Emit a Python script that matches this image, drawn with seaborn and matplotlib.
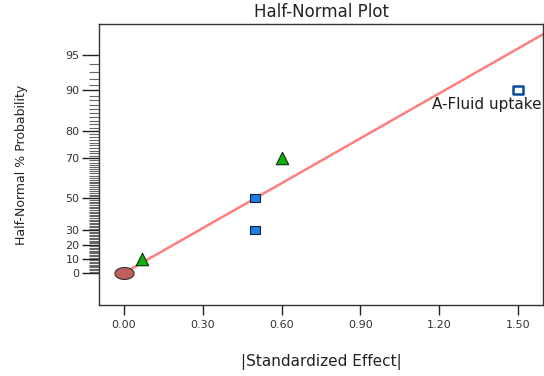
import matplotlib
matplotlib.use("Agg")
import matplotlib.pyplot as plt
import matplotlib.font_manager as fm
from matplotlib.path import Path
import seaborn as sns
import pandas as pd
import numpy as np
from statistics import NormalDist

# ---- data ----
effects = [0.0, 0.07, 0.50, 0.50, 0.60, 1.50]
probs = [0, 10, 30, 50, 70, 90]
kinds = ["error", "tri", "sq", "sq", "tri", "label"]
line_effect = [0.0, 1.60]
line_prob = [0.0, 96.9]
ytick_probs = [0, 10, 20, 30, 50, 70, 80, 90, 95]
xtick_vals = [0.00, 0.30, 0.60, 0.90, 1.20, 1.50]
label_text = "A-Fluid uptake"

nd = NormalDist()
def hn(ps):
    return np.array([nd.inv_cdf(0.5 + v / 200.0) for v in ps])

df = pd.DataFrame({"effect": effects, "prob": probs, "kind": kinds})
df["z"] = hn(df["prob"].tolist())
ldf = pd.DataFrame({"effect": line_effect, "z": hn(line_prob)})

sns.set_style("white")
plt.rcParams["font.family"] = ["DejaVu Sans"]

# condensed font for the y label, if available
names = {f.name for f in fm.fontManager.ttflist}
ylab_kw = dict(family=["DejaVu Sans"], fontsize=9)
if "Liberation Sans Narrow" in names:
    ylab_kw = dict(family=["Liberation Sans Narrow"], fontsize=11)
elif "DejaVu Sans Condensed" in names:
    ylab_kw = dict(family=["DejaVu Sans Condensed"], fontsize=10)

fig = plt.figure(figsize=(5.44, 3.76), dpi=100)
ax = fig.add_axes([99/544, 71/376, 444/544, 281/376])

sns.lineplot(data=ldf, x="effect", y="z", ax=ax, color="#ff7f7f", lw=1.8, zorder=1)

t = np.linspace(0, 2*np.pi, 60)
ell = Path(np.column_stack([1.6*np.cos(t), np.sin(t)]), closed=True)
rect = Path([(-1.4, -1), (1.4, -1), (1.4, 1), (-1.4, 1), (-1.4, -1)], closed=True)

sns.scatterplot(data=df[df.kind == "error"], x="effect", y="z", ax=ax, marker=ell,
                s=190, color="#c0605c", edgecolor="#303030", linewidth=0.8, zorder=3)
sns.scatterplot(data=df[df.kind == "tri"], x="effect", y="z", ax=ax, marker="^",
                s=80, color="#10b010", edgecolor="#103010", linewidth=0.8, zorder=3)
sns.scatterplot(data=df[df.kind == "sq"], x="effect", y="z", ax=ax, marker=rect,
                s=55, color="#1a80e8", edgecolor="#102040", linewidth=0.8, zorder=3)
sns.scatterplot(data=df[df.kind == "label"], x="effect", y="z", ax=ax, marker=rect,
                s=55, color="white", edgecolor="#0a4a9a", linewidth=1.8, zorder=3)

lab = df[df.kind == "label"].iloc[0]
ax.annotate(label_text, (lab["effect"], lab["z"]), xytext=(17, -10), textcoords="offset points",
            ha="right", va="center", fontsize=11, color="#202020")

ax.set_xlim(-0.095, 1.595)
ax.set_ylim(-0.288, 2.243)
ax.set_xticks(xtick_vals)
ax.set_xticklabels([f"{v:.2f}" for v in xtick_vals], fontsize=8, color="#333333")
ax.set_yticks(hn(ytick_probs))
ax.set_yticklabels([str(p) for p in ytick_probs], fontsize=8, color="#333333")
minor = [p for p in range(1, 95) if p not in ytick_probs]
ax.set_yticks(hn(minor), minor=True)
ax.tick_params(axis="x", which="major", direction="out", length=7, width=1, color="#222222", bottom=True, pad=4)
ax.tick_params(axis="y", which="major", direction="out", length=12, width=1, color="#222222", left=True, pad=2)
ax.tick_params(axis="y", which="minor", direction="out", length=7, width=0.8, color="#666666", left=True)

for s in ax.spines.values():
    s.set_color("#333333")
    s.set_linewidth(1)
    s.set_visible(True)

ax.set_xlabel("|Standardized Effect|", fontsize=11, color="#222222", labelpad=17)
ax.set_ylabel("Half-Normal % Probability", color="#222222", labelpad=27, **ylab_kw)
ax.set_title("Half-Normal Plot", fontsize=12, color="#222222", pad=5)

fig.savefig("out.png", dpi=100)
